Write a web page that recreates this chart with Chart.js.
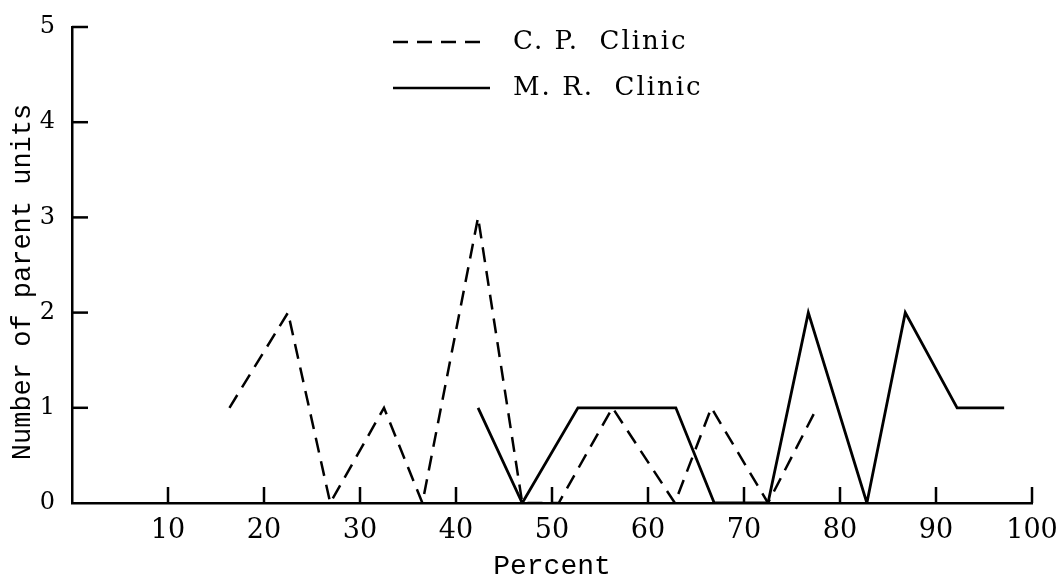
<!DOCTYPE html>
<html>
<head>
<meta charset="utf-8">
<script src="https://cdn.jsdelivr.net/npm/chart.js@4.4.1/dist/chart.umd.min.js"></script>
<style>
  html, body { margin: 0; padding: 0; background: #fff; }
  #wrap { width: 1063px; height: 579px; }
</style>
</head>
<body>
<div id="wrap"><canvas id="chart" width="1063" height="579"></canvas></div>
<script>
// values
const cpPercent = [16.4, 22.5, 26.9, 32.5, 36.5, 42.3, 46.9, 50.7, 56.3, 62.8, 66.6, 72.5, 77.6];
const cpUnits   = [1, 2, 0, 1, 0, 3, 0, 0, 1, 0, 1, 0, 1];
const mrPercent = [42.3, 46.9, 52.7, 62.9, 66.9, 72.5, 76.7, 82.8, 86.8, 92.2, 97.1];
const mrUnits   = [1, 0, 1, 1, 0, 0, 2, 0, 2, 1, 1];

const xTicks = [10, 20, 30, 40, 50, 60, 70, 80, 90, 100];
const yTicks = [1, 2, 3, 4, 5];
const seriesNames = ["C. P.  Clinic", "M. R.  Clinic"];
const xTitle = "Percent";
const yTitle = "Number of parent units";

const serif = "'DejaVu Serif', 'Liberation Serif', serif";
const mono = "'Liberation Mono', 'DejaVu Sans Mono', monospace";

function toPoints(xs, ys) {
  return xs.map((x, i) => ({ x: x, y: ys[i] }));
}

// inward tick marks, y title and the legend box at the top
const paperMarks = {
  id: "paperMarks",
  afterDraw(chart) {
    const ctx = chart.ctx;
    const xs = chart.scales.x;
    const ys = chart.scales.y;
    const area = chart.chartArea;

    ctx.save();
    ctx.strokeStyle = "#000";
    ctx.lineWidth = 2.5;
    ctx.lineCap = "butt";

    xTicks.forEach(v => {
      const px = xs.getPixelForValue(v);
      ctx.beginPath();
      ctx.moveTo(px, area.bottom);
      ctx.lineTo(px, area.bottom - 16);
      ctx.stroke();
    });

    yTicks.forEach(v => {
      const py = ys.getPixelForValue(v);
      ctx.beginPath();
      ctx.moveTo(area.left, py);
      ctx.lineTo(area.left + 16, py);
      ctx.stroke();
    });

    // y axis title
    ctx.fillStyle = "#000";
    ctx.font = "27px " + mono;
    ctx.textAlign = "center";
    ctx.textBaseline = "middle";
    ctx.translate(23, 282);
    ctx.rotate(-Math.PI / 2);
    ctx.fillText(yTitle, 0, 0);
    ctx.setTransform(1, 0, 0, 1, 0, 0);
    ctx.restore();

    // legend
    ctx.save();
    const rows = [42, 88];
    chart.data.datasets.forEach((ds, i) => {
      const y = rows[i];
      ctx.strokeStyle = "#000";
      ctx.lineWidth = 2.5;
      ctx.setLineDash(ds.borderDash || []);
      ctx.beginPath();
      ctx.moveTo(393, y);
      ctx.lineTo(i === 0 ? 484 : 490, y);
      ctx.stroke();
      ctx.setLineDash([]);
      ctx.fillStyle = "#000";
      ctx.font = "26px " + serif;
      ctx.textAlign = "left";
      ctx.textBaseline = "middle";
      ctx.letterSpacing = "2px";
      ctx.fillText(ds.label, 513, y);
    });
    ctx.restore();
  }
};

const ctx = document.getElementById("chart");

new Chart(ctx, {
  type: "line",
  data: {
    datasets: [
      {
        label: seriesNames[0],
        data: toPoints(cpPercent, cpUnits),
        borderColor: "#000",
        borderWidth: 2.5,
        borderDash: [15, 9],
        pointRadius: 0,
        tension: 0,
        fill: false
      },
      {
        label: seriesNames[1],
        data: toPoints(mrPercent, mrUnits),
        borderColor: "#000",
        borderWidth: 2.8,
        pointRadius: 0,
        tension: 0,
        fill: false
      }
    ]
  },
  options: {
    responsive: false,
    animation: false,
    layout: { padding: { top: 27, right: 31, left: 0, bottom: 0 } },
    plugins: {
      legend: { display: false },
      tooltip: { enabled: false }
    },
    scales: {
      x: {
        type: "linear",
        min: 0,
        max: 100,
        afterFit: s => {
          s.height = 76;
          s.paddingLeft = 0;
          s.paddingRight = 0;
        },
        grid: { display: false, drawTicks: false },
        border: { display: true, color: "#000", width: 2.5 },
        ticks: {
          stepSize: 10,
          padding: 12,
          color: "#000",
          font: { family: serif, size: 27 },
          callback: v => (v === 0 ? "" : v)
        },
        title: {
          display: true,
          text: xTitle,
          color: "#000",
          font: { family: mono, size: 28 },
          padding: { top: 0, bottom: -4 }
        }
      },
      y: {
        min: 0,
        max: 5,
        afterFit: s => {
          s.width = 72;
          s.paddingTop = 0;
          s.paddingBottom = 0;
        },
        grid: { display: false, drawTicks: false },
        border: { display: true, color: "#000", width: 2.5 },
        ticks: {
          stepSize: 1,
          padding: 17,
          color: "#000",
          font: { family: serif, size: 24 }
        }
      }
    }
  },
  plugins: [paperMarks]
});
</script>
</body>
</html>
